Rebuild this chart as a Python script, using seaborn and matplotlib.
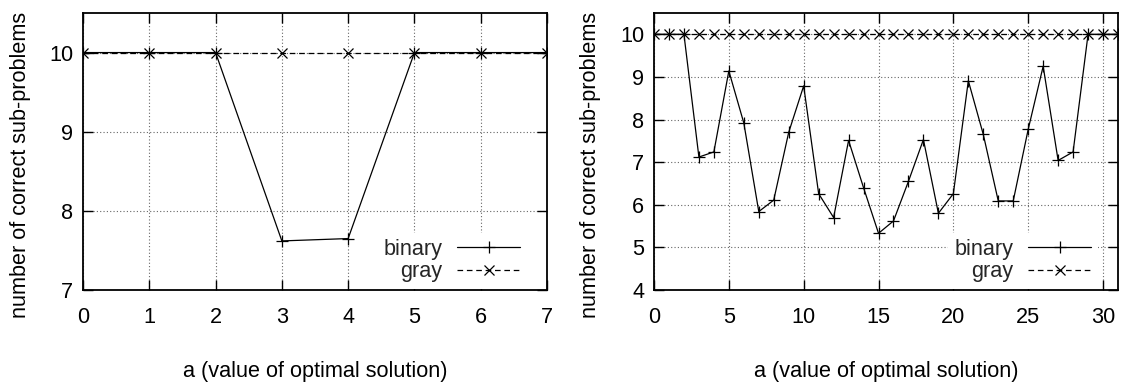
import matplotlib
matplotlib.use("Agg")
import matplotlib.pyplot as plt
import seaborn as sns
import numpy as np
import pandas as pd

# ---- data ----
a_left = list(range(0, 8))
binary_left = [10, 10, 10, 7.62, 7.65, 10, 10, 10]
gray_left = [10, 10, 10, 10, 10, 10, 10, 10]

a_right = list(range(0, 32))
binary_right = [10, 10, 10, 7.12, 7.24, 9.14, 7.92, 5.84, 6.11, 7.70,
                8.79, 6.26, 5.70, 7.51, 6.40, 5.33, 5.62, 6.55, 7.53, 5.80,
                6.26, 8.91, 7.65, 6.09, 6.09, 7.77, 9.25, 7.04, 7.24, 10,
                10, 10]
gray_right = [10] * 32

xlabel = "a (value of optimal solution)"
ylabel = "number of correct sub-problems"

sns.set_theme(style="white")
plt.rcParams['font.family'] = ['Liberation Sans', 'DejaVu Sans']
FS = 15.6

W, H = 1126, 385
fig = plt.figure(figsize=(W / 100, H / 100), dpi=100)
ax1 = fig.add_axes([83 / W, 1 - 290 / H, (547 - 83) / W, (290 - 13) / H])
ax2 = fig.add_axes([654 / W, 1 - 290 / H, (1118 - 654) / W, (290 - 13) / H])


def draw(ax, x, b, g, xlim, ylim, xticks, yticks):
    sns.lineplot(x=x, y=b, ax=ax, color='black', linewidth=0.9,
                 marker='+', markersize=8.5, markeredgecolor='black',
                 markeredgewidth=0.9, label='binary', zorder=3)
    sns.lineplot(x=x, y=g, ax=ax, color='black', linewidth=0.9,
                 linestyle=(0, (4.5, 3)),
                 marker='x', markersize=7, markeredgecolor='black',
                 markeredgewidth=0.9, label='gray', zorder=3)
    ax.set_xlim(*xlim)
    ax.set_ylim(*ylim)
    ax.set_xticks(xticks)
    ax.set_yticks(yticks)
    ax.grid(True, color='#666666', linestyle=(0, (1, 2)), linewidth=0.8)
    ax.tick_params(direction='in', length=7, width=1, top=True, right=True,
                   bottom=True, left=True, labelsize=FS, colors='black')
    ax.tick_params(axis='x', pad=12)
    ax.tick_params(axis='y', pad=7)
    for s in ax.spines.values():
        s.set_color('black')
        s.set_linewidth(1.3)
    ax.set_xlabel(xlabel, fontsize=FS, labelpad=24, color='black')
    ax.set_ylabel(ylabel, fontsize=FS, color='black')
    leg = ax.legend(loc='lower right', bbox_to_anchor=(0.956, 0.005),
                    markerfirst=False, fontsize=FS,
                    frameon=True, facecolor='white', edgecolor='none',
                    framealpha=1, handlelength=2.9, borderaxespad=0,
                    labelspacing=0.05, handletextpad=0.7, borderpad=0.3)
    leg.set_zorder(5)


draw(ax1, a_left, binary_left, gray_left, (0, 7), (7, 10.5),
     range(0, 8), [7, 8, 9, 10])
draw(ax2, a_right, binary_right, gray_right, (0, 31), (4, 10.5),
     [0, 5, 10, 15, 20, 25, 30], [4, 5, 6, 7, 8, 9, 10])

ax1.yaxis.set_label_coords(-0.112, 0.451)
ax2.yaxis.set_label_coords(-0.114, 0.451)

fig.savefig("out.png", dpi=100, facecolor='white')
